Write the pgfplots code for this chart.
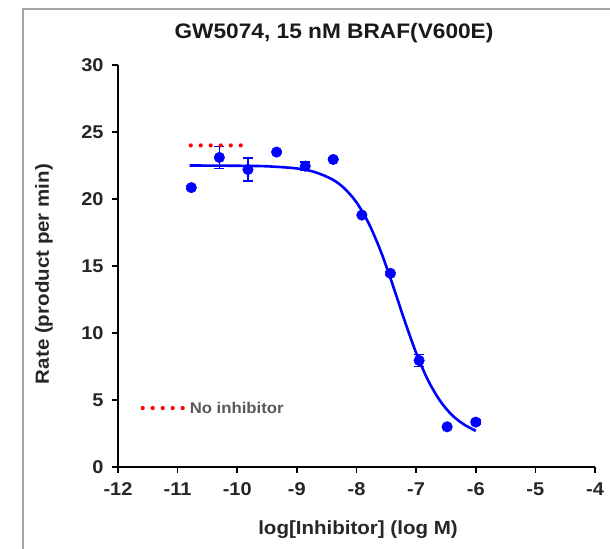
\documentclass[border=0pt]{standalone}
\usepackage{fontspec}
\setmainfont{Liberation Sans}[FakeStretch=1.08]
\usepackage{pgfplots}
\pgfplotsset{compat=1.18}
\definecolor{framegray}{HTML}{A6A6A6}
\definecolor{legtext}{HTML}{595959}

\begin{document}
\begin{tikzpicture}
\path[use as bounding box] (0bp,0bp) rectangle (610bp,549bp);
\draw[framegray, line width=2bp] (23bp,-2bp) -- (23bp,540bp) -- (612bp,540bp);

\begin{axis}[
    at={(118bp,82bp)}, anchor=south west,
    scale only axis, width=477bp, height=402bp,
    xmin=-12, xmax=-4, ymin=0, ymax=30,
    axis x line*=bottom, axis y line*=left,
    axis line style={black, line width=2bp, -},
    xtick={-12,-11,...,-4}, ytick={0,5,...,30},
    tick align=outside, major tick length=6bp,
    tick style={black, line width=1.6bp},
    /pgf/number format/assume math mode=true,
    tick label style={font=\fontsize{18.5bp}{20bp}\selectfont\bfseries, text=black!85},
    xticklabel style={yshift=-6bp},
    yticklabel style={xshift=-5bp},
    clip=false,
]
% fitted dose-response curve
\addplot[blue, line width=2.6bp, smooth] coordinates {
    (-10.8,22.50) (-10.0,22.48) (-9.5,22.44) (-9.0,22.28) (-8.7,22.01)
    (-8.4,21.45) (-8.2,20.78) (-8.0,19.75) (-7.8,18.23) (-7.6,16.18)
    (-7.4,13.69) (-7.2,11.01) (-7.0,8.52) (-6.8,6.47) (-6.6,4.95)
    (-6.4,3.88) (-6.2,3.18) (-6.0,2.70)
};
% measured rates with error bars
\addplot[blue, only marks, mark=*, mark size=5.3bp,
    mark options={fill=blue, draw=blue},
    error bars/.cd, y dir=both, y explicit,
    error bar style={blue, line width=1.3bp},
    error mark options={rotate=90, mark size=5bp, line width=1.3bp, blue}]
  coordinates {
    (-10.77,20.85) +- (0,0.15)
    (-10.30,23.10) +- (0,0.80)
    (-9.82,22.20) +- (0,0.85)
    (-9.34,23.50) +- (0,0.10)
    (-8.86,22.45) +- (0,0.30)
    (-8.39,22.95) +- (0,0.10)
    (-7.91,18.80) +- (0,0.10)
    (-7.43,14.45) +- (0,0.15)
    (-6.95,7.95) +- (0,0.45)
    (-6.48,3.00) +- (0,0.10)
    (-6.00,3.35) +- (0,0.15)
};
% no-inhibitor level
\addplot[red, line width=4.2bp, line cap=round, dash pattern=on 0bp off 10bp]
  coordinates {(-10.78,24.0) (-9.90,24.0)};
% legend sample
\addplot[red, line width=4.2bp, line cap=round, dash pattern=on 0bp off 10bp]
  coordinates {(-11.586,4.4) (-10.90,4.4)};
\node[anchor=west, inner sep=0pt, text=legtext,
      font=\fontsize{15.5bp}{17bp}\selectfont\bfseries] at (axis cs:-10.80,4.4) {No inhibitor};
\end{axis}

\node[font=\fontsize{21bp}{24bp}\selectfont\bfseries, text=black!90] at (334bp,516bp) {GW5074, 15 nM BRAF(V600E)};
\node[font=\fontsize{19bp}{22bp}\selectfont\bfseries, text=black!85] at (358bp,19bp) {log[Inhibitor] (log M)};
\node[font=\fontsize{19bp}{22bp}\selectfont\bfseries, text=black!85, rotate=90] at (44bp,275bp) {Rate (product per min)};
\end{tikzpicture}
\end{document}
